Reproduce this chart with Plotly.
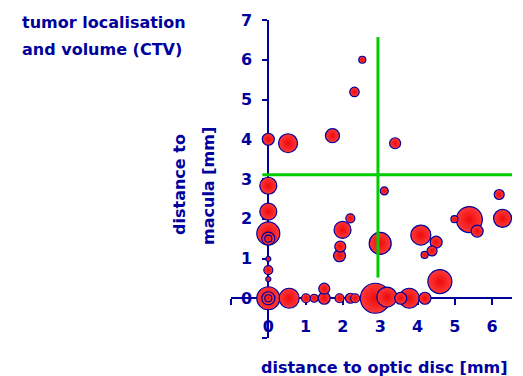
import plotly.graph_objects as go

# ---- data: distance to optic disc (mm), distance to macula (mm), bubble diameter (CTV volume, px) ----
disc_mm = [0, 0.53, 1.72, 2.31, 2.52, 3.4,
           0, 0, 0, 0, 0, 0, 0, 0, 0, 0, 0,
           0.56, 1.01, 1.23, 1.5, 1.5, 1.91, 2.2, 2.33,
           1.99, 2.2, 1.93, 1.91, 3.0,
           2.87, 3.18, 3.55, 3.78, 4.2, 4.6,
           3.11, 4.09, 4.5, 4.39, 4.19,
           4.99, 5.39, 5.6, 6.19, 6.28]
macula_mm = [4.0, 3.9, 4.09, 5.19, 6.0, 3.9,
             2.83, 2.18, 1.63, 1.5, 1.5, 0.99, 0.71, 0.48, 0, 0, 0,
             0, 0, 0, 0, 0.24, 0, 0, 0,
             1.72, 2.01, 1.3, 1.07, 1.38,
             0, 0.03, 0, 0, 0, 0.42,
             2.7, 1.59, 1.41, 1.19, 1.09,
             1.99, 1.98, 1.69, 2.61, 2.01]
volume = [12, 19, 14, 9.5, 7, 11,
          17, 17, 23, 13, 7, 5, 9, 5, 23, 13, 7,
          20, 9, 8, 12, 11, 9, 10, 9,
          17, 9, 11, 12, 22,
          30, 20, 12, 20, 12, 24,
          8, 20, 12, 10, 7,
          7, 26, 12, 10, 18]

x_ticks = [-1, 0, 1, 2, 3, 4, 5, 6]
x_ticktext = ["", "0", "1", "2", "3", "4", "5", "6"]
y_ticks = [-1, 0, 1, 2, 3, 4, 5, 6, 7]
y_ticktext = ["", "0", "1", "2", "3", "4", "5", "6", "7"]

optic_limit = 2.94      # vertical green line
macula_limit = 3.11     # horizontal green line

# ---- layout geometry ----
W, H = 523, 376
L, R, T, B = 231, 11, 18, 38
PW, PH = W - L - R, H - T - B
X_PER_MM = 37.3
x_range = [-1, -1 + PW / X_PER_MM]
y_range = [-1, 7]

NAVY = "#00009c"
FONT = "DejaVu Sans, Verdana, sans-serif"


def px(xp):
    return (xp - L) / PW


def py(yp):
    return 1 - (yp - T) / PH


order = sorted(range(len(volume)), key=lambda i: -volume[i])

fig = go.Figure()
fig.add_trace(go.Scatter(
    x=[disc_mm[i] for i in order],
    y=[macula_mm[i] for i in order],
    mode="markers",
    marker=dict(
        size=[volume[i] for i in order],
        color="#ff3a3a",
        gradient=dict(type="radial", color="#ee0a0a"),
        line=dict(color=NAVY, width=1.2),
        opacity=1,
    ),
    hoverinfo="x+y",
    showlegend=False,
    cliponaxis=False,
))

fig.add_shape(type="line", x0=optic_limit, x1=optic_limit, y0=0.52, y1=6.57,
              xref="x", yref="y", line=dict(color="#00cc00", width=3), layer="above")
fig.add_shape(type="line", x0=-0.16, x1=x_range[1], y0=macula_limit, y1=macula_limit,
              xref="x", yref="y", line=dict(color="#00cc00", width=3), layer="above")

tickfont = dict(family=FONT, size=16, color=NAVY, weight="bold")

fig.update_layout(
    width=W, height=H,
    margin=dict(l=L, r=R, t=T, b=B, pad=0),
    paper_bgcolor="white", plot_bgcolor="white",
    xaxis=dict(range=x_range, tickvals=x_ticks, ticktext=x_ticktext,
               showgrid=False, zeroline=False, showline=True,
               linecolor=NAVY, linewidth=2, ticks="outside", ticklen=6,
               tickwidth=2, tickcolor=NAVY, tickfont=tickfont,
               anchor="free", position=(0 - y_range[0]) / (y_range[1] - y_range[0]),
               ticklabelstandoff=8, layer="below traces", fixedrange=True),
    yaxis=dict(range=y_range, tickvals=y_ticks, ticktext=y_ticktext,
               showgrid=False, zeroline=False, showline=True,
               linecolor=NAVY, linewidth=2, ticks="outside", ticklen=5,
               tickwidth=2, tickcolor=NAVY, tickfont=tickfont,
               anchor="free", position=(0 - x_range[0]) / (x_range[1] - x_range[0]),
               ticklabelstandoff=7, layer="below traces", fixedrange=True),
)

afont = dict(family=FONT, size=16, color=NAVY, weight="bold")
ann = [
    dict(text="tumor localisation", x=px(20), y=py(21), xanchor="left", yanchor="middle"),
    dict(text="and volume (CTV)", x=px(20), y=py(48), xanchor="left", yanchor="middle"),
    dict(text="distance to optic disc [mm]", x=px(384), y=py(368), xanchor="center", yanchor="middle"),
    dict(text="distance to", x=px(180), y=py(184), xanchor="center", yanchor="middle", textangle=-90),
    dict(text="macula [mm]", x=px(209), y=py(185), xanchor="center", yanchor="middle", textangle=-90),
]
for a in ann:
    fig.add_annotation(xref="paper", yref="paper", showarrow=False, font=afont, **a)

fig.write_html("out.html", config={"displayModeBar": False},
               post_script="document.body.style.margin='0';document.body.style.overflow='hidden';")
